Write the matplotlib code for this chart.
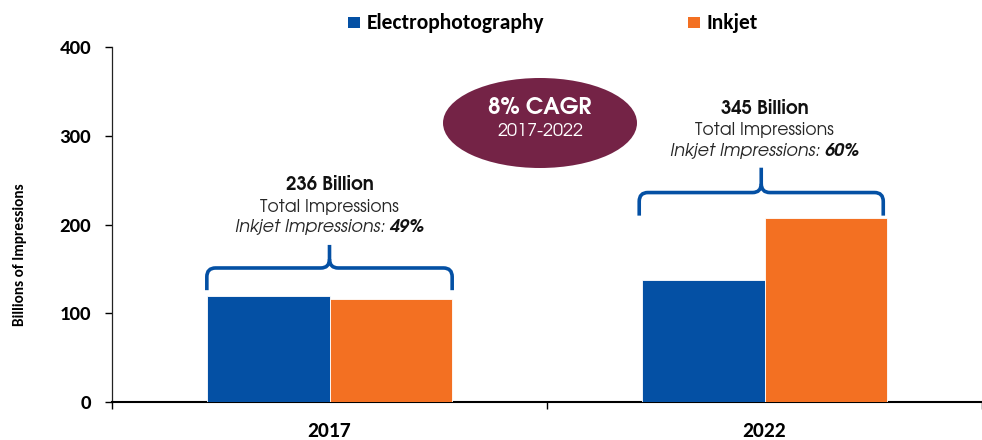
import matplotlib
matplotlib.use("Agg")
import matplotlib.pyplot as plt
from matplotlib.patches import Ellipse, Rectangle, PathPatch
from matplotlib.path import Path
from matplotlib.transforms import ScaledTranslation

years = ["2017", "2022"]
electro = [120, 138]
inkjet = [116, 207]
totals = ["236 Billion", "345 Billion"]
inkjet_share = ["49%", "60%"]
series_names = ["Electrophotography", "Inkjet"]
yticks = [0, 100, 200, 300, 400]

BLUE = "#0450a4"
ORANGE = "#f37022"
MAROON = "#742346"
TXT = "#262626"

label_font = ["Carlito", "DejaVu Sans"]
anno_font = ["TeX Gyre Adventor", "Poppins", "Lato", "DejaVu Sans"]

fig = plt.figure(figsize=(9.82, 4.40), dpi=100)
ax = fig.add_axes([112 / 982, 38 / 440, 870 / 982, 355 / 440])

x = list(range(len(years)))
w = 0.282
ax.bar([i - w / 2 for i in x], electro, width=w, color=BLUE, edgecolor="white", linewidth=0.6, zorder=3)
ax.bar([i + w / 2 for i in x], inkjet, width=w, color=ORANGE, edgecolor="white", linewidth=0.6, zorder=3)

ax.set_xlim(-0.5, 1.477)
ax.set_ylim(0, 400)
ax.set_yticks(yticks)
ax.set_yticklabels([str(t) for t in yticks], fontsize=15, fontweight="bold", family=label_font)
ax.set_xticks([-0.5, 0.5, 1.5])
ax.set_xticklabels([])
ax.set_xticks(x, minor=True)
ax.set_xticklabels(years, minor=True, fontsize=15.5, fontweight="bold", family=label_font)
ax.tick_params(axis="x", which="minor", length=0, pad=14)
ax.tick_params(axis="x", which="major", length=5, direction="out", width=1)
ax.tick_params(axis="y", length=5, width=1, pad=10)
for s in ["top", "right"]:
    ax.spines[s].set_visible(False)
ax.spines["left"].set_color("#222222")
ax.spines["left"].set_linewidth(0.9)
ax.spines["bottom"].set_linewidth(1.5)
fig.text(20 / 982, 1 - 255 / 440, "Billions of Impressions", rotation=90, ha="center", va="center",
         fontsize=11, fontweight="bold", family=label_font)

# braces
def brace(ax, x0, x1, y_end, y_h, y_tip, rx=0.02, ry=10):
    xc = (x0 + x1) / 2
    verts = [
        (x0, y_end), (x0, y_h - ry), (x0, y_h), (x0 + rx, y_h),
        (xc - rx, y_h), (xc, y_h), (xc, y_h + ry), (xc, y_tip),
    ]
    codes = [Path.MOVETO, Path.LINETO, Path.CURVE3, Path.CURVE3,
             Path.LINETO, Path.CURVE3, Path.CURVE3, Path.LINETO]
    verts2 = [
        (x1, y_end), (x1, y_h - ry), (x1, y_h), (x1 - rx, y_h),
        (xc + rx, y_h), (xc, y_h), (xc, y_h + ry),
    ]
    codes2 = [Path.MOVETO, Path.LINETO, Path.CURVE3, Path.CURVE3,
              Path.LINETO, Path.CURVE3, Path.CURVE3]
    for v, c in [(verts, codes), (verts2, codes2)]:
        ax.add_patch(PathPatch(Path(v, c), facecolor="none", edgecolor=BLUE, lw=2.6,
                               capstyle="butt", joinstyle="round", zorder=4))

brace(ax, -0.282, 0.282, 126, 151, 177)
brace(ax, 0.712, 1.273, 210, 236, 264)

renderer = fig.canvas.get_renderer()
text_y = [(244, 220, 197), (330, 306, 283)]
for i in x:
    t0, t1, t2 = text_y[i]
    ax.text(i, t0, totals[i], ha="center", va="center", fontsize=13.3, fontweight="bold", family=anno_font, color="#111111")
    ax.text(i, t1, "Total Impressions", ha="center", va="center", fontsize=12.5, family=anno_font, color=TXT)
    a = ax.text(i, t2, "Inkjet Impressions: ", ha="left", va="center", fontsize=12.7, style="italic",
                family=anno_font, color=TXT)
    b = ax.text(i, t2, inkjet_share[i], ha="left", va="center", fontsize=12.7, style="italic",
                fontweight="bold", family=anno_font, color="#111111")
    wa = a.get_window_extent(renderer).width
    wb = b.get_window_extent(renderer).width
    tot = wa + wb
    a.set_transform(ax.transData + ScaledTranslation(-tot / 2 / fig.dpi, 0, fig.dpi_scale_trans))
    b.set_transform(ax.transData + ScaledTranslation((-tot / 2 + wa) / fig.dpi, 0, fig.dpi_scale_trans))

# CAGR ellipse
fig.patches.append(Ellipse((540 / 982, 1 - 123 / 440), 194 / 982, 90 / 440, transform=fig.transFigure,
                           facecolor=MAROON, edgecolor="none"))
fig.text(540 / 982, 1 - 107 / 440, "8% CAGR", ha="center", va="center", color="white", fontsize=16,
         fontweight="bold", family=anno_font)
fig.text(540 / 982, 1 - 131 / 440, "2017-2022", ha="center", va="center", color="white", fontsize=13,
         family=anno_font)

# legend
for (lx, tx, name, col) in [(348, 367, series_names[0], BLUE), (688, 706, series_names[1], ORANGE)]:
    fig.patches.append(Rectangle((lx / 982, 1 - 28 / 440), 12 / 982, 11 / 440, transform=fig.transFigure,
                                 facecolor=col, edgecolor="none"))
    fig.text(tx / 982, 1 - 29 / 440, name, ha="left", va="baseline", fontsize=15.5, fontweight="bold",
             family=label_font)

fig.savefig("out.png", dpi=100)
